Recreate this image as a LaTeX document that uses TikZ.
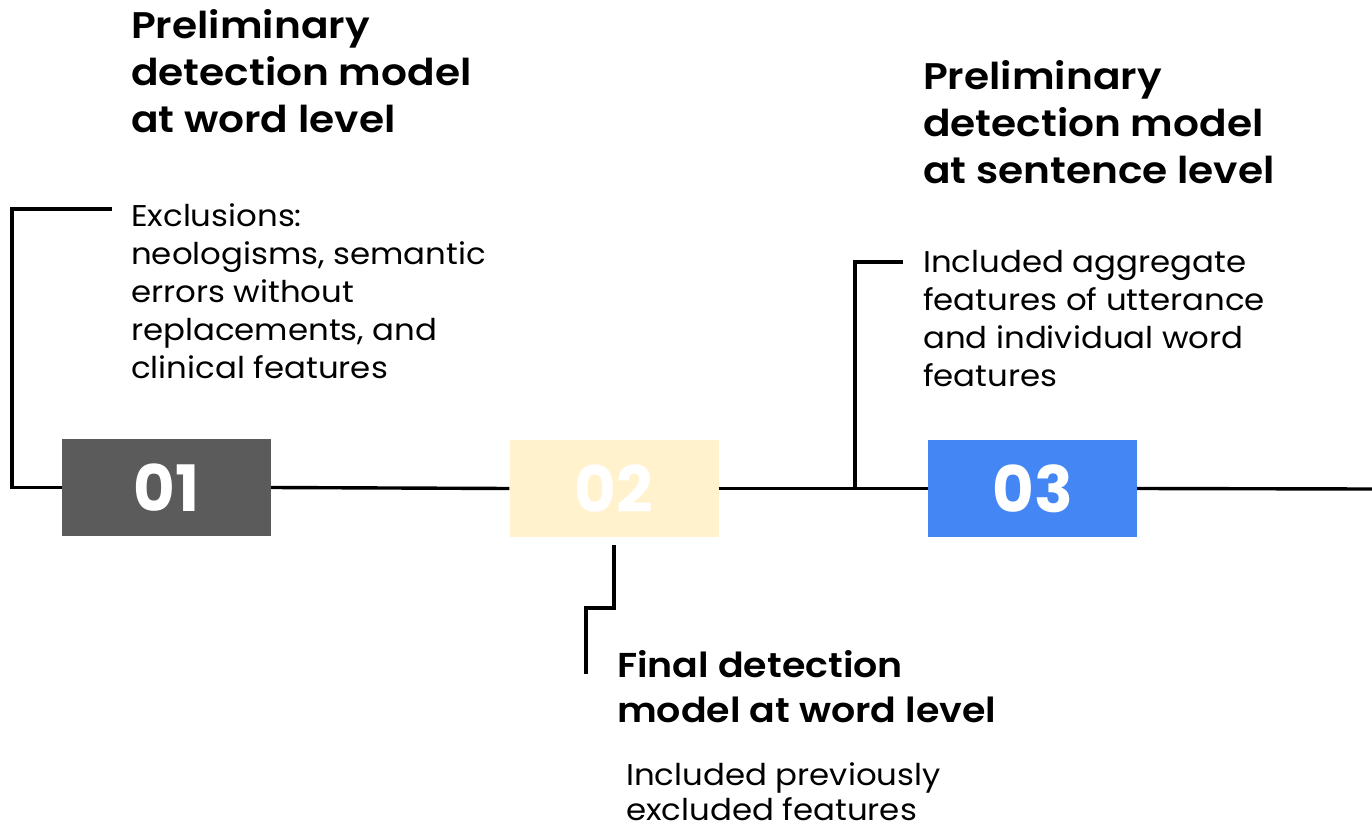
\documentclass[tikz,border=0pt]{standalone}
\usepackage{fontspec}
\setmainfont{Poppins}[FakeStretch=1.08]
\newfontfamily\headfont{Poppins}[UprightFont=* SemiBold, FakeStretch=1.10]
\newfontfamily\numfont{Poppins}[UprightFont=* Bold]
\definecolor{stepgray}{HTML}{5B5B5B}
\definecolor{stepcream}{HTML}{FFF2CC}
\definecolor{stepblue}{HTML}{4486F4}
\begin{document}
\begin{tikzpicture}[x=1pt,y=-1pt,
  numbox/.style={minimum width=209pt, minimum height=97pt, inner sep=0pt,
    text=white, font=\numfont\fontsize{64}{64}\selectfont},
  heading/.style={anchor=base west, inner sep=0pt, align=left,
    font=\headfont\fontsize{37}{47}\selectfont},
  note/.style={anchor=base west, inner sep=0pt, align=left,
    font=\fontsize{30}{38}\selectfont},
  link/.style={line width=3.4pt, line join=miter, black}]
\useasboundingbox (0,0) rectangle (1372,826);

% numbered steps
\node[numbox, fill=stepgray]  (b1) at (166.5,487.5) {01};
\node[numbox, fill=stepcream] (b2) at (614,488.5) {02};
\node[numbox, fill=stepblue]  (b3) at (1032.5,488.5) {03};

% timeline
\coordinate (tend) at (1372,489);
\coordinate (j3) at (855,488.5);
\draw[link] (b1.east) -- (b2.west);
\draw[link] (b2.east) -- (b3.west);
\draw[link] (b3.east) -- (tend);

% step 1 labels (anchored at the baseline of the last line)
\node[heading] (h1) at (131,133) {Preliminary\\detection model\\at word level};
\node[note] (n1) at (131,378) {Exclusions:\\neologisms, semantic\\errors without\\replacements, and\\clinical features};
\coordinate (c1) at (112,209);
\draw[link] (c1) -- (12,209) |- (b1.west);

% step 3 labels
\node[heading] (h3) at (923,184) {Preliminary\\detection model\\at sentence level};
\node[note] (n3) at (923,386) {Included aggregate\\features of utterance\\and individual word\\features};
\coordinate (c3) at (903,262);
\draw[link] (c3) -| (j3);

% step 2 labels
\node[heading, font=\headfont\fontsize{34.5}{45}\selectfont] (h2) at (617,722) {Final detection\\model at word level};
\node[note, font=\fontsize{30}{35}\selectfont] (n2) at (626,820) {Included previously\\excluded features};
\coordinate (c2a) at (614,545);
\coordinate (c2b) at (586,674);
\draw[link] (c2a) -- (614,608) -| (c2b);
\end{tikzpicture}
\end{document}
